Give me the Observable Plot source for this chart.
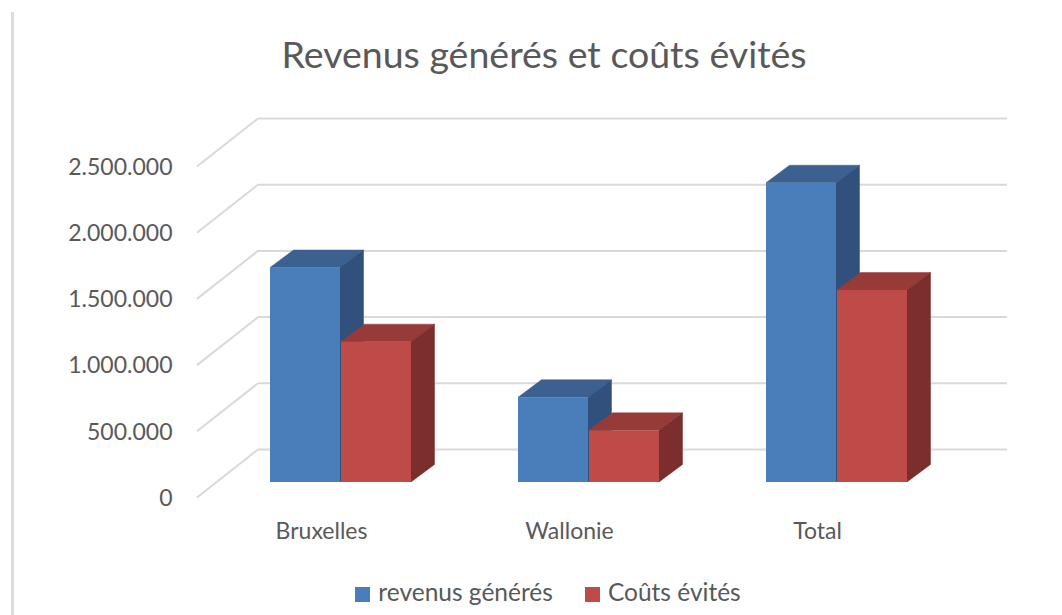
<!DOCTYPE html>
<html><head><meta charset="utf-8">
<script src="https://cdn.jsdelivr.net/npm/d3@7"></script>
<script src="https://cdn.jsdelivr.net/npm/@observablehq/plot@0.6"></script>
<style>
html,body{margin:0;padding:0;background:#fff;}
#wrap{position:relative;width:1062px;height:615px;overflow:hidden;font-family:Lato, sans-serif;color:#595959;}
#border{position:absolute;left:11px;top:12px;width:3px;height:603px;background:#dcdcdc;}
#chart{position:absolute;left:0;top:0;}
#title{position:absolute;left:0;top:35px;width:1088px;text-align:center;font-size:37.5px;line-height:37.5px;white-space:nowrap;}
#legend{position:absolute;top:580px;left:0;width:1096px;display:flex;justify-content:center;align-items:center;font-size:24.5px;line-height:24.5px;white-space:nowrap;}
.item{display:flex;align-items:center;margin:0 16px;}
.sw{display:inline-block;width:15px;height:15px;margin-right:8px;margin-top:5px;}
</style></head>
<body>
<div id="wrap">
  <div id="border"></div>
  <div id="chart"></div>
  <div id="title">Revenus générés et coûts évités</div>
  <div id="legend"></div>
</div>
<script>
const categories = ["Bruxelles", "Wallonie", "Total"];
const revenusGeneres = [1620000, 640000, 2260000];
const coutsEvites = [1060000, 390000, 1450000];
const yTicks = [0, 500000, 1000000, 1500000, 2000000, 2500000];
const seriesNames = ["revenus générés", "Coûts évités"];
const seriesColors = ["#4a7ebb", "#be4b48"];
const topColors = ["#3c6191", "#963b38"];
const sideColors = ["#31507c", "#7b2e2b"];

const fmt = d3.formatLocale({decimal: ",", thousands: ".", grouping: [3], currency: ["", " €"]}).format(",d");

const rows = categories.flatMap((c, i) => [
  {category: c, series: seriesNames[0], value: revenusGeneres[i]},
  {category: c, series: seriesNames[1], value: coutsEvites[i]}
]);

const DX = 23.5, DY = -17.5;   // bar depth offset (px)
const BAR_SHIFT = 33;          // bar plane vs back wall
const WALL_DX = -61, WALL_DY = 48; // front plane vs back wall

function withDepth(topColor, sideColor) {
  return (index, scales, values, dims, ctx, next) => {
    const g = next(index, scales, values, dims, ctx);
    const sel = d3.select(g);
    const rects = sel.selectAll("rect").nodes();
    for (const r of rects) {
      const x = +r.getAttribute("x"), y = +r.getAttribute("y");
      const w = +r.getAttribute("width"), h = +r.getAttribute("height");
      const top = [[x, y], [x + DX, y + DY], [x + w + DX, y + DY], [x + w, y]];
      const side = [[x + w, y], [x + w + DX, y + DY], [x + w + DX, y + h + DY], [x + w, y + h]];
      sel.insert("polygon", ":first-child").attr("points", side.join(" "))
        .attr("fill", sideColor).attr("stroke", sideColor).attr("stroke-width", 0.5);
      sel.insert("polygon", ":first-child").attr("points", top.join(" "))
        .attr("fill", topColor).attr("stroke", topColor).attr("stroke-width", 0.5);
    }
    return g;
  };
}

function withDiagonals(index, scales, values, dims, ctx, next) {
  const g = next(index, scales, values, dims, ctx);
  const sel = d3.select(g);
  for (const i of index) {
    const yb = values.y[i];
    sel.append("line")
      .attr("x1", dims.marginLeft + WALL_DX).attr("y1", yb + WALL_DY)
      .attr("x2", dims.marginLeft).attr("y2", yb)
      .attr("stroke", "#d9d9d9").attr("stroke-width", 2);
  }
  return g;
}

const plot = Plot.plot({
  width: 1062,
  height: 615,
  marginLeft: 258,
  marginRight: 55,
  marginTop: 118,
  marginBottom: 166,
  style: {fontFamily: "Lato, sans-serif", fontSize: "23px", color: "#595959", background: "transparent", overflow: "visible"},
  x: {type: "band", domain: categories, range: [162, 1016], paddingInner: 0.43, paddingOuter: 0.43},
  y: {domain: [0, 2500000], range: [449, 118]},
  marks: [
    Plot.ruleY(yTicks, {y: d => d, stroke: "#d9d9d9", strokeWidth: 2, render: withDiagonals}),
    Plot.barY(rows.filter(d => d.series === seriesNames[0]), {
      x: "category", y1: 0, y2: "value", fill: seriesColors[0],
      insetRight: 71, dy: BAR_SHIFT, render: withDepth(topColors[0], sideColors[0])
    }),
    Plot.barY(rows.filter(d => d.series === seriesNames[1]), {
      x: "category", y1: 0, y2: "value", fill: seriesColors[1],
      insetLeft: 71, dy: BAR_SHIFT, render: withDepth(topColors[1], sideColors[1])
    }),
    Plot.axisY(yTicks, {tickSize: 0, tickPadding: 86, dy: WALL_DY + 1, tickFormat: fmt, label: null, fill: "#595959"}),
    Plot.axisX({tickSize: 0, tickPadding: 73, dx: -19.5, label: null, fill: "#595959"})
  ]
});
document.getElementById("chart").appendChild(plot);

const legend = d3.select("#legend");
seriesNames.forEach((name, i) => {
  const item = legend.append("div").attr("class", "item");
  item.append("span").attr("class", "sw").style("background", seriesColors[i]);
  item.append("span").text(name);
});
</script>
</body></html>
